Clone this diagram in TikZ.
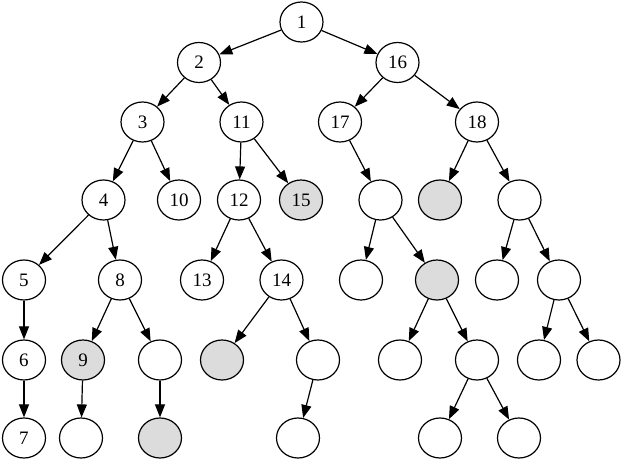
\documentclass[tikz,border=0pt]{standalone}
\usepackage{fontspec}
\setmainfont{Liberation Serif}
\usetikzlibrary{arrows.meta,shapes.geometric}
\definecolor{shade}{HTML}{DCDCDC}
\tikzset{
  tn/.style={ellipse,draw=black,line width=1.2pt,minimum width=43pt,minimum height=40pt,inner sep=0pt,font=\fontsize{19}{19}\selectfont},
  gn/.style={tn,fill=shade},
  ed/.style={line width=1.2pt,-{Triangle[length=13pt,width=10pt]}}
}
\begin{document}
\begin{tikzpicture}[x=1pt,y=-1pt]
\useasboundingbox (0,0) rectangle (622,462);
\node[tn] (n1) at (301.5,22) {1};
\node[tn] (n2) at (199,62.5) {2};
\node[tn] (n16) at (397.5,62.5) {16};
\node[tn] (n3) at (142.5,122) {3};
\node[tn] (n11) at (241.5,122) {11};
\node[tn] (n17) at (340,122) {17};
\node[tn] (n18) at (477,122) {18};
\node[tn] (n4) at (103.5,200) {4};
\node[tn] (n10) at (179,200) {10};
\node[tn] (n12) at (239,200) {12};
\node[gn] (n15) at (301,200) {15};
\node[tn] (a) at (380.5,200) {};
\node[gn] (b) at (440,200) {};
\node[tn] (c) at (519.5,200) {};
\node[tn] (n5) at (24,280) {5};
\node[tn] (n8) at (120,280) {8};
\node[tn] (n13) at (202,280) {13};
\node[tn] (n14) at (281.5,280) {14};
\node[tn] (d) at (361,280) {};
\node[gn] (e) at (437,280) {};
\node[tn] (f) at (497,280) {};
\node[tn] (g) at (559,280) {};
\node[tn] (n6) at (24,360) {6};
\node[gn] (n9) at (83,360) {9};
\node[tn] (h) at (160,360) {};
\node[gn] (i) at (222,360) {};
\node[tn] (j) at (318,360) {};
\node[tn] (k) at (400,360) {};
\node[tn] (l) at (477,360) {};
\node[tn] (m) at (539,360) {};
\node[tn] (o) at (598.5,360) {};
\node[tn] (n7) at (24,438) {7};
\node[tn] (p) at (81,438) {};
\node[gn] (q) at (160,438) {};
\node[tn] (r) at (298,438) {};
\node[tn] (s) at (440,438) {};
\node[tn] (t) at (519,438) {};
\foreach \u/\v in {n1/n2,n1/n16,n2/n3,n2/n11,n16/n17,n16/n18,n3/n4,n3/n10,n11/n12,n11/n15,n17/a,n18/b,n18/c,n4/n5,n4/n8,n12/n13,n12/n14,a/d,a/e,c/f,c/g,n5/n6,n8/n9,n8/h,n14/i,n14/j,e/k,e/l,g/m,g/o,n6/n7,n9/p,h/q,j/r,l/s,l/t}
  \draw[ed] (\u) -- (\v);
\end{tikzpicture}
\end{document}
